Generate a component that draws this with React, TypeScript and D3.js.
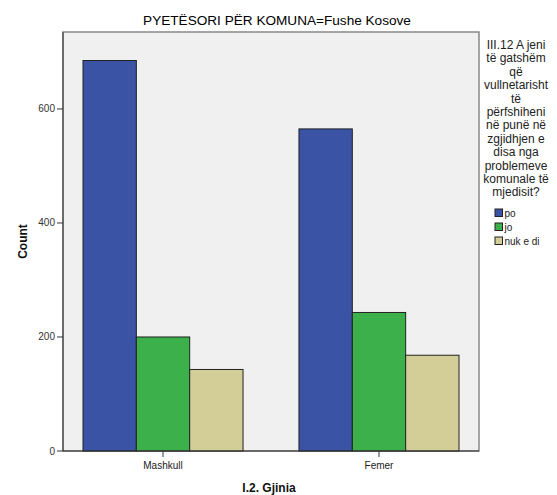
import * as d3 from "d3";

const categories = ["Mashkull", "Femer"];
const seriesNames = ["po", "jo", "nuk e di"];
const seriesValues = [
  [685, 565],
  [200, 243],
  [143, 168],
];
const yTicks = [0, 200, 400, 600];
const colors = ["#3a53a4", "#3bb04b", "#d3cd98"];
const legendTitle = [
  "III.12 A jeni",
  "të gatshëm",
  "që",
  "vullnetarisht",
  "të",
  "përfshiheni",
  "në punë në",
  "zgjidhjen e",
  "disa nga",
  "problemeve",
  "komunale të",
  "mjedisit?",
];

const width = 557;
const height = 495;
const plot = { left: 63, right: 479, top: 32, bottom: 451 };
const font = "'Liberation Sans', Arial, sans-serif";

export default function App() {
  const x = d3
    .scaleBand()
    .domain(categories)
    .range([plot.left, plot.right])
    .paddingInner(0.259)
    .paddingOuter(0.0926);
  const inner = d3
    .scaleBand()
    .domain(seriesNames)
    .range([0, x.bandwidth()]);
  const y = d3.scaleLinear().domain([0, 735]).range([plot.bottom, plot.top]);

  return (
    <svg
      width={width}
      height={height}
      style={{ position: "absolute", left: 0, top: 0, background: "#fff" }}
      fontFamily={font}
    >
      <text x={277} y={25} textAnchor="middle" fontSize={13.6} fill="#000">
        PYETËSORI PËR KOMUNA=Fushe Kosove
      </text>
      <rect
        x={plot.left}
        y={plot.top}
        width={plot.right - plot.left}
        height={plot.bottom - plot.top}
        fill="#f0f0f0"
        stroke="#888"
        strokeWidth={1.5}
      />
      {seriesValues.map((vals, si) =>
        vals.map((v, ci) => (
          <rect
            key={`${si}-${ci}`}
            x={(x(categories[ci]) ?? 0) + (inner(seriesNames[si]) ?? 0)}
            y={y(v)}
            width={inner.bandwidth()}
            height={y(0) - y(v)}
            fill={colors[si]}
            stroke="#222"
            strokeWidth={1}
          />
        ))
      )}
      {/* axes */}
      <line x1={plot.left} x2={plot.left} y1={plot.top} y2={plot.bottom} stroke="#333" />
      <line x1={plot.left} x2={plot.right} y1={plot.bottom} y2={plot.bottom} stroke="#333" />
      {yTicks.map((t) => (
        <g key={t}>
          <line x1={plot.left - 6} x2={plot.left} y1={y(t)} y2={y(t)} stroke="#333" />
          <text
            x={plot.left - 8}
            y={y(t)}
            dy="0.35em"
            textAnchor="end"
            fontSize={10}
            fill="#333"
          >
            {t}
          </text>
        </g>
      ))}
      {categories.map((c) => {
        const cx = (x(c) ?? 0) + x.bandwidth() / 2;
        return (
          <g key={c}>
            <line x1={cx} x2={cx} y1={plot.bottom} y2={plot.bottom + 6} stroke="#333" />
            <text x={cx} y={plot.bottom + 18} textAnchor="middle" fontSize={10} fill="#222">
              {c}
            </text>
          </g>
        );
      })}
      <text
        transform={`translate(27,${(plot.top + plot.bottom) / 2}) rotate(-90)`}
        textAnchor="middle"
        fontSize={12}
        fontWeight="bold"
        fill="#111"
      >
        Count
      </text>
      <text x={269} y={492} textAnchor="middle" fontSize={12} fontWeight="bold" fill="#111">
        I.2. Gjinia
      </text>
      {/* legend */}
      {legendTitle.map((line, i) => (
        <text
          key={i}
          x={516}
          y={49 + i * 13.4}
          textAnchor="middle"
          fontSize={12}
          fill="#222"
        >
          {line}
        </text>
      ))}
      {seriesNames.map((s, i) => (
        <g key={s} transform={`translate(495,${209 + i * 14})`}>
          <rect width={7.5} height={7.5} fill={colors[i]} stroke="#222" strokeWidth={1} />
          <text x={9.5} y={7.5} fontSize={10} fill="#222">
            {s}
          </text>
        </g>
      ))}
    </svg>
  );
}
